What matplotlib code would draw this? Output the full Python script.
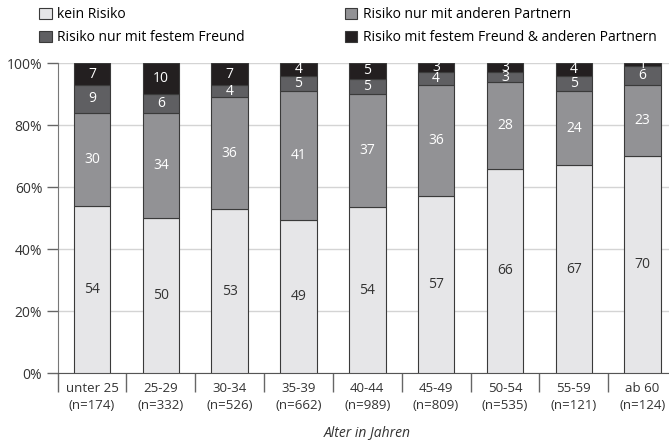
import numpy as np
import matplotlib
matplotlib.use('Agg')
import matplotlib.pyplot as plt
from matplotlib.patches import Patch

plt.rcParams['font.family'] = ['Open Sans', 'DejaVu Sans']

# Data (percent per age group)
groups = ['unter 25\n(n=174)', '25-29\n(n=332)', '30-34\n(n=526)', '35-39\n(n=662)',
          '40-44\n(n=989)', '45-49\n(n=809)', '50-54\n(n=535)', '55-59\n(n=121)', 'ab 60\n(n=124)']
kein = [54, 50, 53, 49, 54, 57, 66, 67, 70]
andere = [30, 34, 36, 41, 37, 36, 28, 24, 23]
freund = [9, 6, 4, 5, 5, 4, 3, 5, 6]
beide = [7, 10, 7, 4, 5, 3, 3, 4, 1]

series_names = ['kein Risiko', 'Risiko nur mit anderen Partnern',
                'Risiko nur mit festem Freund', 'Risiko mit festem Freund & anderen Partnern']
colors = ['#e6e6e8', '#929295', '#5f5f62', '#231f20']
text_colors = ['#333333', 'white', 'white', 'white']

series = [kein, andere, freund, beide]
vals = np.array(series, dtype=float)
norm = vals / vals.sum(axis=0) * 100  # bars are scaled to 100%

fig = plt.figure(figsize=(6.69, 4.48), dpi=100)
ax = fig.add_axes([0.086, 0.167, 0.926, 0.692])

x = np.arange(len(groups))
bottom = np.zeros(len(groups))
for i in range(4):
    ax.bar(x, norm[i], bottom=bottom, width=0.53, color=colors[i],
           edgecolor='#3a3a3a', linewidth=0.8, zorder=3)
    for j in range(len(groups)):
        ax.text(x[j], bottom[j] + norm[i][j] / 2, str(series[i][j]),
                ha='center', va='center', fontsize=10, color=text_colors[i], zorder=4)
    bottom += norm[i]

ax.set_xlim(-0.5, len(groups) - 0.5)
ax.set_ylim(0, 100)
ax.set_yticks(range(0, 101, 20))
ax.set_yticklabels([f'{v}%' for v in range(0, 101, 20)], fontsize=10, color='#333333')
ax.yaxis.grid(True, color='#d4d4d4', linewidth=1, zorder=0)

ax.set_xticks(x)
ax.set_xticklabels(groups, fontsize=9.5, color='#333333', linespacing=1.45)
ax.set_xticks(np.arange(len(groups) + 1) - 0.5, minor=True)
ax.tick_params(axis='x', which='major', length=0, pad=6)
ax.tick_params(axis='x', which='minor', length=14, width=1, color='#666666')
ax.tick_params(axis='y', length=8, width=1, color='#666666', pad=3)

for s in ['top', 'right']:
    ax.spines[s].set_visible(False)
ax.spines['left'].set_color('#777777')
ax.spines['bottom'].set_color('#555555')

ax.set_xlabel('Alter in Jahren', fontsize=10, style='italic', color='#333333', labelpad=9)

handles = [Patch(facecolor=colors[k], edgecolor='#3a3a3a', linewidth=0.8) for k in [0, 2, 1, 3]]
labels = [series_names[k] for k in [0, 2, 1, 3]]
fig.legend(handles, labels, ncol=2, loc='upper left', bbox_to_anchor=(0.04, 1.012),
           frameon=False, fontsize=10, handlelength=0.9, handleheight=0.9,
           handletextpad=0.4, columnspacing=7.2, labelspacing=0.6)

fig.savefig('out.png', dpi=100)
